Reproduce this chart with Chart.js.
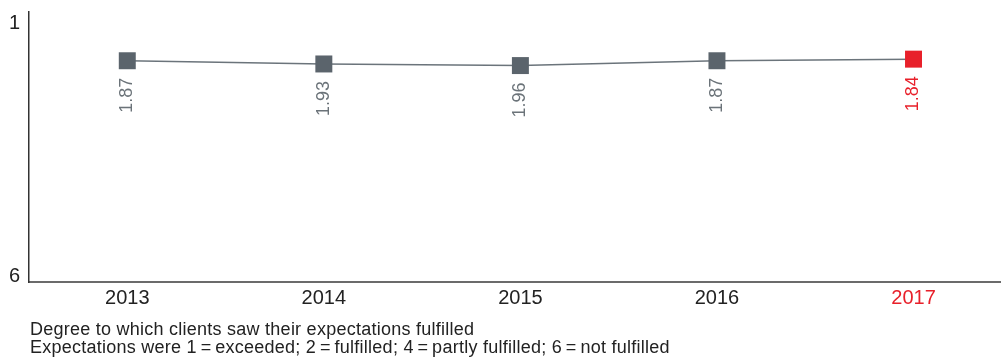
<!DOCTYPE html>
<html>
<head>
<meta charset="utf-8">
<script src="https://cdn.jsdelivr.net/npm/chart.js@4.4.1/dist/chart.umd.min.js"></script>
<style>
  html, body { margin: 0; padding: 0; background: #fff; }
  #wrap { position: relative; width: 1001px; height: 358px; }
  #note {
    position: absolute; left: 30px; top: 320px; white-space: nowrap;
    font: 18px "Liberation Sans", Arial, sans-serif; line-height: 18px; letter-spacing: 0.25px; color: #222;
  }
</style>
</head>
<body>
<div id="wrap">
  <canvas id="myChart" width="1001" height="358"></canvas>
  <div id="note">
    Degree to which clients saw their expectations fulfilled<br>
    Expectations were 1&#8201;=&#8201;exceeded; 2&#8201;=&#8201;fulfilled; 4&#8201;=&#8201;partly fulfilled; 6&#8201;=&#8201;not fulfilled
  </div>
</div>
<script>
const years = [2013, 2014, 2015, 2016, 2017];
const scores = [1.87, 1.93, 1.96, 1.87, 1.84];
const yTicks = [1, 6];

const grey = '#5b646c';
const red = '#e8202a';
const lastIdx = years.length - 1;

// value labels turned on their side under each square
const valueLabels = {
  id: 'valueLabels',
  afterDatasetsDraw(chart) {
    const ctx = chart.ctx;
    const meta = chart.getDatasetMeta(0);
    meta.data.forEach((pt, i) => {
      ctx.save();
      ctx.translate(pt.x, pt.y + 17);
      ctx.rotate(-Math.PI / 2);
      ctx.font = '18px "Liberation Sans", Arial, sans-serif';
      ctx.fillStyle = i === lastIdx ? red : '#6b7379';
      ctx.textAlign = 'right';
      ctx.textBaseline = 'middle';
      ctx.fillText(scores[i].toFixed(2), 0, 0);
      ctx.restore();
    });
  }
};

const noPad = axis => {
  axis.paddingTop = 0;
  axis.paddingBottom = 0;
  axis.paddingLeft = 0;
  axis.paddingRight = 0;
};

const ctx = document.getElementById('myChart').getContext('2d');
const data = {
  datasets: [{
    data: years.map((y, i) => ({ x: y, y: scores[i] })),
    borderColor: '#6b747b',
    borderWidth: 1.5,
    tension: 0,
    pointStyle: 'rect',
    pointRadius: 12,
    pointHoverRadius: 12,
    pointBorderWidth: 0,
    pointBackgroundColor: years.map((y, i) => i === lastIdx ? red : grey),
  }]
};

const config = {
  type: 'line',
  data: data,
  plugins: [valueLabels],
  options: {
    responsive: false,
    animation: false,
    layout: { autoPadding: false, padding: { top: 12, right: 1, bottom: 46, left: 0 } },
    plugins: { legend: { display: false }, tooltip: { enabled: false } },
    scales: {
      x: {
        type: 'linear',
        min: 2012.5,
        max: 2017.44,
        afterBuildTicks: axis => { axis.ticks = years.map(v => ({ value: v })); },
        afterFit: axis => { axis.height = 30; noPad(axis); },
        grid: { display: false, drawTicks: false },
        border: { display: true, color: '#6b6b6b', width: 2 },
        ticks: {
          padding: 4,
          autoSkip: false,
          maxRotation: 0,
          callback: v => String(v),
          color: c => c.index === lastIdx ? red : '#222',
          font: { family: '"Liberation Sans", Arial, sans-serif', size: 20 },
        },
      },
      y: {
        reverse: true,
        min: 0.96,
        max: 6,
        afterBuildTicks: axis => { axis.ticks = yTicks.map(v => ({ value: v })); },
        afterFit: axis => { axis.width = 29; noPad(axis); },
        grid: { display: false, drawTicks: false },
        border: { display: true, color: '#333', width: 1.5 },
        ticks: {
          padding: 9,
          color: '#222',
          callback: v => v === 1 ? ['', '1'] : ['6', ''],
          font: c => ({
            family: '"Liberation Sans", Arial, sans-serif',
            size: 20,
            lineHeight: c.index === 0 ? '18px' : '12px',
          }),
        },
      },
    },
  },
};

const sensorsChart = new Chart(ctx, config);
</script>
</body>
</html>
